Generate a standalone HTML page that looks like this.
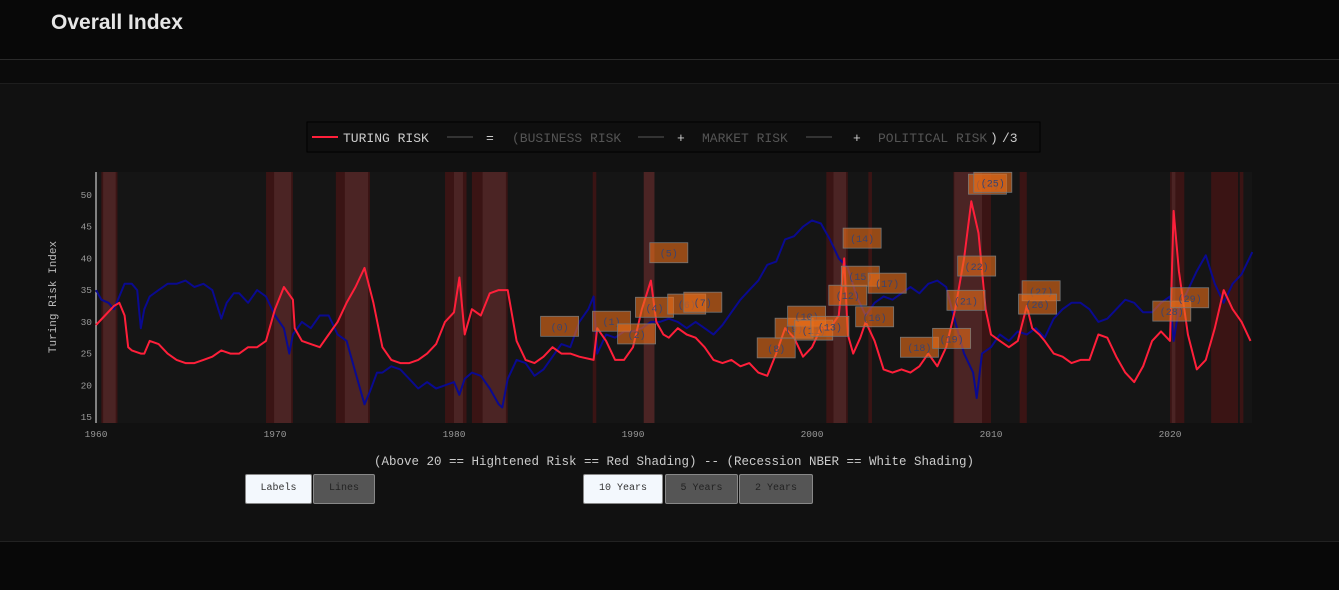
<!DOCTYPE html>
<html><head><meta charset="utf-8"><style>
body{margin:0;width:1339px;height:590px;background:#080808;overflow:hidden;font-family:"Liberation Mono",monospace;position:relative}
.hdr{position:absolute;left:0;top:0;width:1339px;height:59px;border-bottom:1px solid #2a2a2a;background:#080808}
.hdr h1{margin:0;position:absolute;left:51px;top:11px;font:bold 21px "Liberation Sans",sans-serif;color:#e6e6e6}
.strip{position:absolute;left:0;top:60px;width:1339px;height:23px;border-bottom:1px solid #1e1e1e;background:#0b0b0b}
.panel{position:absolute;left:0;top:84px;width:1339px;height:457px;background:#111;border-bottom:1px solid #222}
.btn{position:absolute;top:474px;height:30px;border:1px solid #888;border-radius:2px;box-sizing:border-box;font:10px "Liberation Mono",monospace;line-height:28px;text-align:center}
.on{background:#f3f8fd;color:#333}.off{background:#555;color:#222}
</style></head><body>
<div class="hdr"><h1>Overall Index</h1></div>
<div class="strip"></div>
<div class="panel"></div>
<svg id="chart" width="1339" height="590" style="position:absolute;left:0;top:0"></svg>
<div class="btn on" style="left:245px;width:67px">Labels</div>
<div class="btn off" style="left:313px;width:62px">Lines</div>
<div class="btn on" style="left:583px;width:80px">10 Years</div>
<div class="btn off" style="left:665px;width:73px">5 Years</div>
<div class="btn off" style="left:739px;width:74px">2 Years</div>
<script>
const redYears=[1960,1960.5,1961,1961.3,1961.6,1961.8,1962,1962.5,1962.7,1963,1963.5,1964,1964.5,1965,1965.5,1966,1966.5,1967,1967.5,1968,1968.5,1969,1969.5,1970,1970.5,1971,1971.1,1971.5,1972,1972.5,1973,1973.5,1974,1974.5,1975,1975.5,1976,1976.5,1977,1977.5,1978,1978.5,1979,1979.5,1980,1980.3,1980.6,1981,1981.5,1982,1982.5,1983,1983.5,1984,1984.5,1985,1985.5,1986,1986.5,1987,1987.8,1988,1988.5,1989,1989.5,1990,1990.5,1991,1991.3,1991.7,1992,1992.5,1993,1993.5,1994,1994.5,1995,1995.5,1996,1996.5,1997,1997.5,1998,1998.5,1999,1999.5,2000,2000.5,2001,2001.5,2001.8,2002,2002.3,2002.7,2003,2003.5,2004,2004.5,2005,2005.5,2006,2006.5,2007,2007.5,2008,2008.5,2008.9,2009.3,2009.7,2010,2010.5,2011,2011.5,2012,2012.3,2012.7,2013,2013.5,2014,2014.5,2015,2015.5,2016,2016.5,2017,2017.5,2018,2018.5,2019,2019.5,2020,2020.2,2020.5,2021,2021.5,2022,2022.5,2023,2023.5,2024,2024.5];
const redValues=[29.5,31,32.5,33,31,26,25.5,25,25,27,26.5,25,24,23.5,23.5,24,24.5,25.5,25,25,26,26,27,32,35.5,33.5,29,27,26.5,26,28,30,33,35.5,38.5,33,26,24,23.5,23.5,24,25,26.5,30,31.5,37,28,32,31,34.5,35,35,27,24,23.5,24.5,26,25,25,24.5,24,29,27,24,24,26,32,36.5,30,28,27.5,29,28,27.5,26,24,23.5,24,23,23.5,22,21.5,25,29,27.5,24.5,26,29,29,31,40,28,25,27.5,30,27,22.5,22,22.5,22,23,25,23,26,32,40,49,44,32,28,27,26,27,32.5,29,28,27,25,24.5,23.5,24,24,28,27.5,24.5,22,20.5,23,27,28.5,27,47.5,38,28,22.5,24,29,35,32,30,27];
const blueYears=[1960,1960.3,1960.7,1961,1961.3,1961.6,1962,1962.3,1962.5,1962.7,1963,1963.5,1964,1964.5,1965,1965.5,1966,1966.5,1967,1967.3,1967.7,1968,1968.5,1969,1969.5,1970,1970.5,1970.8,1971,1971.5,1972,1972.5,1973,1973.5,1974,1974.5,1975,1975.3,1975.7,1976,1976.5,1977,1977.5,1978,1978.5,1979,1979.5,1980,1980.3,1980.6,1981,1981.5,1982,1982.5,1982.7,1983,1983.5,1984,1984.5,1985,1985.5,1986,1986.5,1987,1987.5,1987.8,1988,1988.5,1989,1989.5,1990,1990.5,1991,1991.5,1992,1992.5,1993,1993.5,1994,1994.5,1995,1995.5,1996,1996.5,1997,1997.5,1998,1998.5,1999,1999.5,2000,2000.5,2001,2001.5,2002,2002.5,2003,2003.5,2004,2004.5,2005,2005.5,2006,2006.5,2007,2007.5,2008,2008.5,2009,2009.2,2009.5,2010,2010.5,2011,2011.5,2012,2012.5,2013,2013.5,2014,2014.5,2015,2015.5,2016,2016.5,2017,2017.5,2018,2018.5,2019,2019.5,2020,2020.2,2020.5,2021,2021.5,2022,2022.5,2023,2023.5,2024,2024.6];
const blueValues=[35,33.5,33,32,34,36,36,35,29,32,34,35,36,36,36.5,35.5,36,35,30.5,33,34.5,34.5,33,35,34,31,29,25,28,30,29,31,31,28,27,22,17,19,22,22,23,22.5,21,19.5,20.5,19.5,20,20.5,18.5,21,22,21.5,19.5,17,16.5,21,24,23.5,21.5,22.5,24.5,26.5,26,30,32,34,25,28,27.5,28.5,28.5,29,30,30,30.5,30,29,30,29,28,29.5,31.5,33.5,35,36.5,39,39.5,43,43.5,45,46,45.5,43,40,38.5,34,31,33,34,33.5,34.5,35.5,34.5,36,36.5,35.5,30,25,22,18,25,26,28,27,28.5,28,29,27.5,30.5,32,33,33,32,30,30.5,32,33.5,33,31.5,31.5,33,34,27,32,35,38,40.5,36,33,36,37.5,41];
const riskBands=[[1960.3,1961.2],[1969.5,1971.0],[1973.4,1975.3],[1979.5,1980.7],[1981.0,1983.0],[1987.75,1987.95],[1990.6,1991.2],[2000.8,2002.0],[2003.15,2003.35],[2007.9,2010.0],[2011.6,2012.0],[2020.0,2020.8],[2022.3,2023.8],[2023.9,2024.1]];
const recessionBands=[[1960.4,1961.1],[1969.95,1970.9],[1973.9,1975.2],[1980.0,1980.5],[1981.6,1982.9],[1990.6,1991.2],[2001.2,2001.9],[2007.95,2009.5],[2020.1,2020.3]];
const labelYears=[1985.9,1988.8,1990.2,1991.2,1992.0,1993.0,1993.9,1998.0,1999.0,1999.7,2000.1,2001.0,2002.0,2002.8,2002.7,2004.2,2003.5,2006.0,2007.8,2008.6,2009.2,2009.8,2010.1,2012.8,2012.6,2020.1,2021.1];
const labelValues=[29.3,30.1,28.1,32.3,40.9,32.8,33.1,25.9,29.0,30.9,28.7,29.3,34.2,43.2,37.2,36.1,30.8,26.0,27.4,33.4,38.8,51.7,52.0,34.9,32.8,31.7,33.8];
const labelTexts=["(0)","(1)","(2)","(4)","(5)","(6)","(7)","(8)","(9)","(10)","(11)","(13)","(12)","(14)","(15)","(17)","(16)","(18)","(19)","(21)","(22)","(24)","(25)","(27)","(26)","(28)","(29)"];
const yTicks=[15,20,25,30,35,40,45,50];
const xTicks=[1960,1970,1980,1990,2000,2010,2020];

const svg=document.getElementById('chart');const NS='http://www.w3.org/2000/svg';
const X0=96,X1=1252,Y0=172,Y1=423;
const xs=y=>96+(y-1960)*17.9;
const ys=v=>195+(50-v)*6.343;
function mk(t,a,p){const e=document.createElementNS(NS,t);for(const k in a)e.setAttribute(k,a[k]);(p||svg).appendChild(e);return e;}
let e;
e=mk('rect',{x:X0,y:Y0,width:X1-X0,height:Y1-Y0,fill:'#151515'});


riskBands.forEach(b=>{e=mk('rect',{x:xs(b[0]),y:Y0,width:xs(b[1])-xs(b[0]),height:Y1-Y0,fill:'#3a1414'});

});
recessionBands.forEach(b=>{e=mk('rect',{x:xs(b[0]),y:Y0,width:xs(b[1])-xs(b[0]),height:Y1-Y0,fill:'rgba(255,200,200,0.09)'});

});
mk('line',{x1:X0,y1:Y0,x2:X0,y2:Y1,stroke:'#eee','stroke-width':1});
yTicks.forEach(t=>{e=mk('text',{x:X0-4,y:ys(t)+3,'text-anchor':'end','font-size':9.5,fill:'#999','font-family':'Liberation Mono,monospace'});e.textContent=t;

});
xTicks.forEach(t=>{e=mk('text',{x:xs(t),y:437,'text-anchor':'middle','font-size':9.5,fill:'#999','font-family':'Liberation Mono,monospace'});e.textContent=t;

});
e=mk('text',{x:56,y:297,'text-anchor':'middle','font-size':11,fill:'#bbb','font-family':'Liberation Mono,monospace',transform:'rotate(-90 56 297)'});e.textContent='Turing Risk Index';


function path(xa,va,col,name){let d='';xa.forEach((y,i)=>{d+=(i?'L':'M')+xs(y).toFixed(1)+','+ys(va[i]).toFixed(1);});
e=mk('path',{d:d,fill:'none',stroke:col,'stroke-width':2,'stroke-linejoin':'round'});

}
path(blueYears,blueValues,'#0a0a90','market-risk-line');
path(redYears,redValues,'#ff1f3a','turing-risk-line');
labelYears.forEach((y,i)=>{const cx=xs(y),cy=ys(labelValues[i]);
const g=mk('g',{});


mk('rect',{x:cx-19,y:cy-10,width:38,height:20,fill:'rgba(235,110,25,0.6)',stroke:'#777','stroke-width':0.8},g);
const t=mk('text',{x:cx,y:cy+4,'text-anchor':'middle','font-size':10,fill:'#3a4470','font-family':'Liberation Mono,monospace'},g);t.textContent=labelTexts[i];});
// legend
e=mk('rect',{x:307,y:122,width:733,height:30,fill:'#0f0f0f',stroke:'#000'});


mk('line',{x1:312,y1:137,x2:338,y2:137,stroke:'#ff1f3a','stroke-width':2});
[[447,473],[638,664],[806,832]].forEach(s=>mk('line',{x1:s[0],y1:137,x2:s[1],y2:137,stroke:'#333','stroke-width':2}));
const leg=[[343,'TURING RISK','#ccc'],[486,'=','#ccc'],[512,'(BUSINESS RISK','#555'],[677,'+','#ccc'],[702,'MARKET RISK','#555'],[853,'+','#ccc'],[878,'POLITICAL RISK','#555'],[990,')','#ccc'],[1002,'/3','#ccc']];
leg.forEach(l=>{e=mk('text',{x:l[0],y:142,'font-size':13,fill:l[2],'font-family':'Liberation Mono,monospace'});e.textContent=l[1];

});
e=mk('text',{x:674,y:465,'text-anchor':'middle','font-size':12.5,fill:'#ccc','font-family':'Liberation Mono,monospace'});
e.textContent='(Above 20 == Hightened Risk == Red Shading) -- (Recession NBER == White Shading)';


</script>
</body></html>
